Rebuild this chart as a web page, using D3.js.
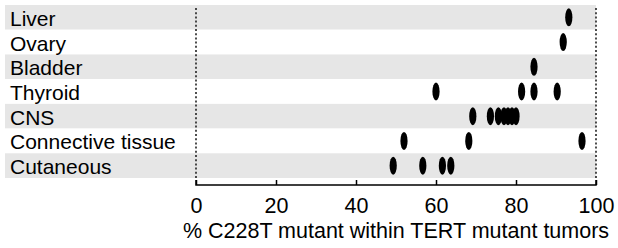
<html>
<script src="https://d3js.org/d3.v7.min.js"></script>
<style>
body { margin: 0; background: white; }
text { font-family: Arial, "Liberation Sans", sans-serif; }
</style>
<div id="chart"></div>
<script>
// tissue rows, top to bottom
var tissues = ["Liver", "Ovary", "Bladder", "Thyroid", "CNS", "Connective tissue", "Cutaneous"];

// % C228T mutant per study, one list per tissue
var liverVals = [93.2];
var ovaryVals = [91.8];
var bladderVals = [84.5];
var thyroidVals = [60, 81.4, 84.5, 90.3];
var cnsVals = [69.2, 73.6, 75.6, 77, 78, 79, 80];
var connectiveVals = [52, 68.2, 96.5];
var cutaneousVals = [49.3, 56.7, 61.6, 63.7];

var xTicks = [0, 20, 40, 60, 80, 100];

var seriesByTissue = [liverVals, ovaryVals, bladderVals, thyroidVals, cnsVals, connectiveVals, cutaneousVals];

var W = 618, H = 248;
var svg = d3.select("#chart").append("svg")
    .attr("width", W)
    .attr("height", H);

var x = d3.scaleLinear().domain([0, 100]).range([196, 596]);
var y = d3.scaleBand().domain(tissues).range([5, 178]).padding(0);

// alternating grey bands
svg.append("g")
  .selectAll("rect")
  .data(tissues)
  .enter()
  .append("rect")
    .attr("x", 5)
    .attr("y", function(d) { return y(d); })
    .attr("width", 591)
    .attr("height", y.bandwidth())
    .style("fill", function(d, i) { return i % 2 == 0 ? "#e6e6e6" : "white"; });

// row labels
svg.append("g")
  .selectAll("text")
  .data(tissues)
  .enter()
  .append("text")
    .attr("x", 10)
    .attr("y", function(d) { return y(d) + y.bandwidth() / 2 + 8.5; })
    .style("font-size", "21px")
    .style("fill", "black")
    .text(function(d) { return d; });

// dotted guides at 0 and 100
svg.append("g")
  .selectAll("line")
  .data([0, 100])
  .enter()
  .append("line")
    .attr("x1", function(d) { return x(d); })
    .attr("x2", function(d) { return x(d); })
    .attr("y1", 8)
    .attr("y2", 180)
    .attr("stroke", "#222")
    .attr("stroke-width", 1.6)
    .attr("stroke-dasharray", "2,2.2");

// dots
var points = [];
seriesByTissue.forEach(function(vals, i) {
  vals.forEach(function(v) { points.push({tissue: tissues[i], value: v}); });
});

svg.append("g")
  .selectAll("ellipse")
  .data(points)
  .enter()
  .append("ellipse")
    .attr("cx", function(d) { return x(d.value); })
    .attr("cy", function(d) { return y(d.tissue) + y.bandwidth() / 2; })
    .attr("rx", 3.6)
    .attr("ry", 9)
    .style("fill", "black");

// x axis, ticks pointing up
var xAxis = d3.axisTop(x)
  .tickValues(xTicks)
  .tickSize(5)
  .tickPadding(0)
  .tickFormat(d3.format("d"));

var gx = svg.append("g")
  .attr("transform", "translate(0,185)")
  .call(xAxis);

gx.select(".domain")
  .attr("d", "M" + x(0) + ",-5V0H" + x(100) + "V-5")
  .attr("stroke", "black")
  .attr("stroke-width", 1.5);
gx.selectAll(".tick line").attr("stroke", "black").attr("stroke-width", 1.5);
gx.selectAll(".tick text")
  .attr("y", 27.5)
  .style("font-size", "21.5px")
  .style("font-family", "Arial, 'Liberation Sans', sans-serif")
  .style("fill", "black");

svg.append("text")
  .attr("x", (x(0) + x(100)) / 2)
  .attr("y", 237.5)
  .attr("text-anchor", "middle")
  .style("font-size", "21.5px")
  .style("fill", "black")
  .text("% C228T mutant within TERT mutant tumors");
</script>
</html>
